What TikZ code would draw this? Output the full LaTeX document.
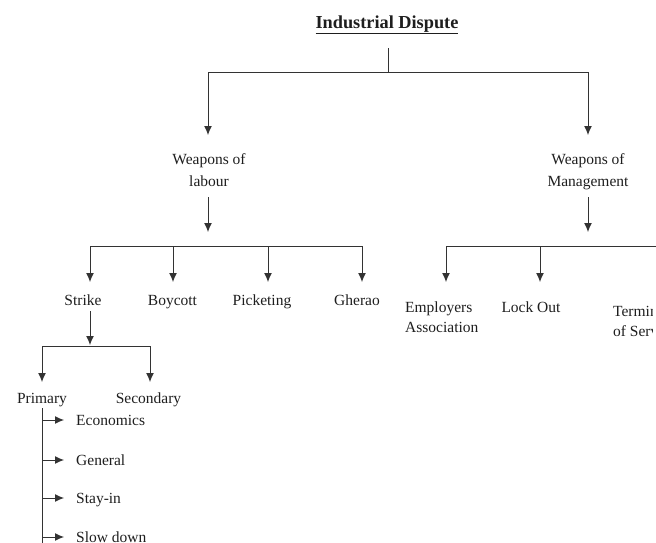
\documentclass[tikz,border=0pt]{standalone}
\usepackage{fontspec}
\setmainfont{Liberation Serif}
\usetikzlibrary{arrows.meta}
\definecolor{ln}{HTML}{333333}
\definecolor{tx}{HTML}{1E1E1E}
\begin{document}
\begin{tikzpicture}[x=1pt,y=-1pt,
  lbl/.style={font=\fontsize{15.5}{20}\selectfont, text=tx, inner sep=0pt, anchor=base},
  lbll/.style={lbl, anchor=base west, align=left},
  lblc/.style={font=\fontsize{15.5}{22}\selectfont, text=tx, inner sep=0pt, align=center},
  ttl/.style={font=\fontsize{18.3}{22}\selectfont\bfseries, text=tx, inner sep=0pt, anchor=base},
  wire/.style={draw=ln, line width=1pt},
  arr/.style={wire, -{Latex[length=9pt,width=8pt]}}]
\useasboundingbox (0,0) rectangle (656,542);
\clip (0,0) rectangle (656,542);

% title
\node[ttl] (t) at (387,28) {\underline{Industrial Dispute}};
\coordinate (t0) at (388,48);
\coordinate (j0) at (388,72);
\coordinate (jl) at (208,72);
\coordinate (jr) at (588,72);
\draw[wire] (t0) -- (j0);
\draw[wire] (jl) -- (jr);

% level 1
\node[lblc, anchor=north] (wl) at (209,153) {Weapons of\\labour};
\node[lblc, anchor=north] (wm) at (588,153) {Weapons of\\Management};
\coordinate (wla) at (208,135);
\coordinate (wma) at (588,135);
\draw[arr] (jl) -- (wla);
\draw[arr] (jr) -- (wma);

% labour branch
\coordinate (wlb) at (208,197);
\coordinate (wlt) at (208,232);
\draw[arr] (wlb) -- (wlt);
\coordinate (h1a) at (90,246);
\coordinate (h1b) at (173,246);
\coordinate (h1c) at (268,246);
\coordinate (h1d) at (362,246);
\draw[wire] (h1a) -- (h1d);
\node[lbl] (strike) at (83,305) {Strike};
\node[lbl] (boycott) at (172.5,305) {Boycott};
\node[lbl] (picket) at (262,305) {Picketing};
\node[lbl] (gherao) at (357,305) {Gherao};
\draw[arr] (h1a) -- (90,282);
\draw[arr] (h1b) -- (173,282);
\draw[arr] (h1c) -- (268,282);
\draw[arr] (h1d) -- (362,282);

% management branch
\coordinate (wmb) at (588,197);
\coordinate (wmt) at (588,232);
\draw[arr] (wmb) -- (wmt);
\coordinate (h2a) at (446,246);
\coordinate (h2b) at (540,246);
\coordinate (h2c) at (660,246);
\draw[wire] (h2a) -- (h2c);
\draw[arr] (h2a) -- (446,282);
\draw[arr] (h2b) -- (540,282);
\node[lbll] (emp) at (405,332) {Employers\\Association};
\node[lbl] (lock) at (531,312) {Lock Out};
\begin{scope}
\clip (0,0) rectangle (652,542);
\node[lbll] (term) at (613,336) {Termination\\of Service};
\end{scope}

% strike branch
\coordinate (s0) at (90,311);
\coordinate (s1) at (90,346);
\draw[arr] (s0) -- (90,345);
\coordinate (h3a) at (42,346);
\coordinate (h3b) at (150,346);
\draw[wire] (h3a) -- (h3b);
\draw[arr] (h3a) -- (42,382);
\draw[arr] (h3b) -- (150,382);
\node[lbl] (prim) at (42,403) {Primary};
\node[lbl] (sec) at (148.5,403) {Secondary};

% primary list
\coordinate (p0) at (42,408);
\coordinate (p1) at (42,560);
\draw[wire] (p0) -- (p1);
\foreach \y/\n/\t in {420/e/Economics, 460/g/General, 498/s/Stay-in, 537/d/Slow down}{
  \draw[arr] (42,\y) -- (64,\y);
  \node[lbll] (\n) at (76,\y+5) {\t};
}
\end{tikzpicture}
\end{document}
